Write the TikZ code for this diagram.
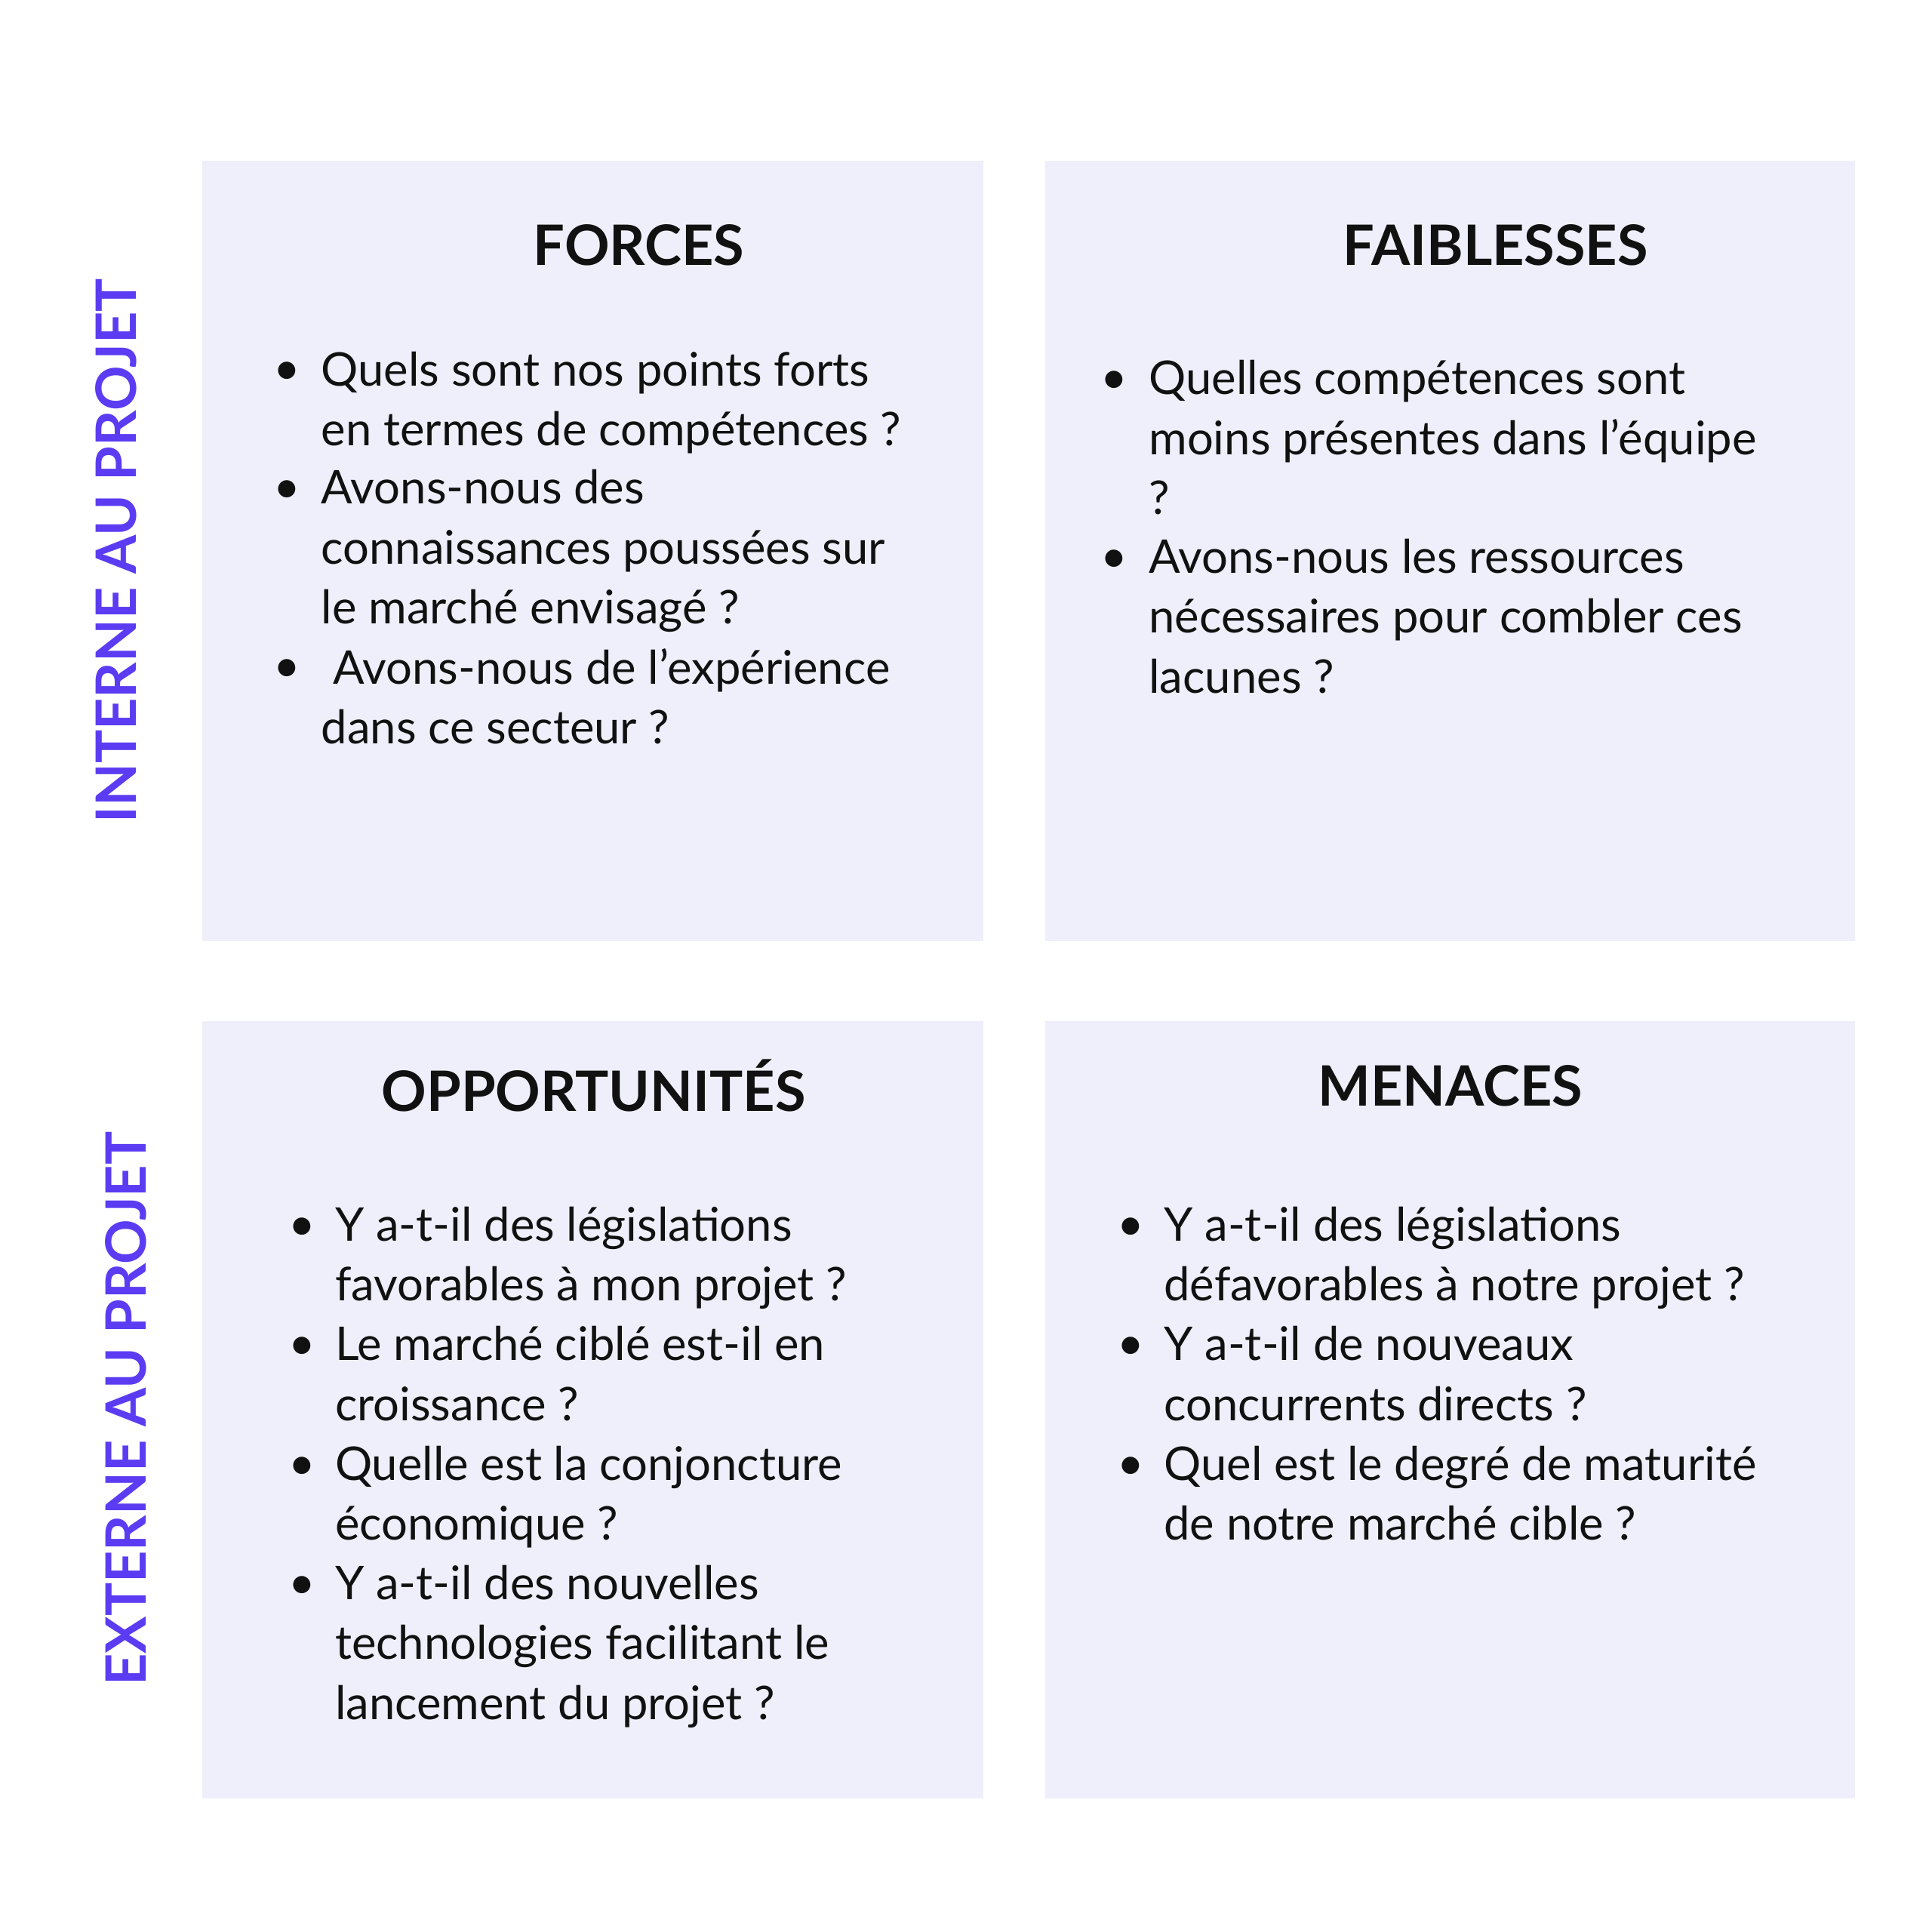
\documentclass[tikz,border=0pt]{standalone}
\usepackage{fontspec}
\setmainfont{Lato}
\definecolor{boxfill}{HTML}{EFEFFB}
\definecolor{side}{HTML}{5B3CF2}
\definecolor{ink}{HTML}{111111}
\tikzset{
 quad/.style={fill=boxfill,draw=none},
 ttl/.style={font=\fontsize{21}{26}\selectfont\bfseries,text=ink,anchor=center},
 itm/.style={font=\fontsize{17.5}{22.6}\selectfont,text=ink,anchor=north west,align=left,inner sep=0pt},
 bul/.style={font=\fontsize{17.5}{22}\selectfont,text=ink,anchor=base,inner sep=0pt},
 sidelbl/.style={font=\fontsize{21}{26}\selectfont\bfseries,text=side,rotate=90,anchor=center}
}
\begin{document}
\begin{tikzpicture}[x=0.016667cm,y=-0.016667cm]
\useasboundingbox (0,0) rectangle (1536,1536);
\fill[white] (0,0) rectangle (1536,1536);
\fill[quad] (161,128) rectangle (782,748);
\fill[quad] (831,128) rectangle (1475,748);
\fill[quad] (161,812) rectangle (782,1430);
\fill[quad] (831,812) rectangle (1475,1430);
\node[sidelbl] (si) at (92,438) {INTERNE AU PROJET};
\node[sidelbl] (se) at (100,1120) {EXTERNE AU PROJET};
\node[ttl] (t1) at (508,195) {FORCES};
\node[ttl] (t2) at (1189,195) {FAIBLESSES};
\node[ttl] (t3) at (472,863) {OPPORTUNITÉS};
\node[ttl] (t4) at (1153,863) {MENACES};
\foreach \y/\t [count=\i] in {306/{Quels sont nos points forts\\en termes de compétences ?},400/{Avons-nous des\\connaissances poussées sur\\le marché envisagé ?},542/{\ Avons-nous de l’expérience\\dans ce secteur ?}}{
 \node[bul] (fb\i) at (228,\y) {\textbullet};
 \node[itm] (fi\i) at (255,\y-27) {\t};}
\foreach \y/\t [count=\i] in {313/{Quelles compétences sont\\moins présentes dans l’équipe\\?},455/{Avons-nous les ressources\\nécessaires pour combler ces\\lacunes ?}}{
 \node[bul] (wb\i) at (886,\y) {\textbullet};
 \node[itm] (wi\i) at (913,\y-27) {\t};}
\foreach \y/\t [count=\i] in {986/{Y a-t-il des législations\\favorables à mon projet ?},1081/{Le marché ciblé est-il en\\croissance ?},1176/{Quelle est la conjoncture\\économique ?},1271/{Y a-t-il des nouvelles\\technologies facilitant le\\lancement du projet ?}}{
 \node[bul] (ob\i) at (240,\y) {\textbullet};
 \node[itm] (oi\i) at (266,\y-27) {\t};}
\foreach \y/\t [count=\i] in {986/{Y a-t-il des législations\\défavorables à notre projet ?},1081/{Y a-t-il de nouveaux\\concurrents directs ?},1176/{Quel est le degré de maturité\\de notre marché cible ?}}{
 \node[bul] (mb\i) at (899,\y) {\textbullet};
 \node[itm] (mi\i) at (925,\y-27) {\t};}
\end{tikzpicture}
\end{document}
